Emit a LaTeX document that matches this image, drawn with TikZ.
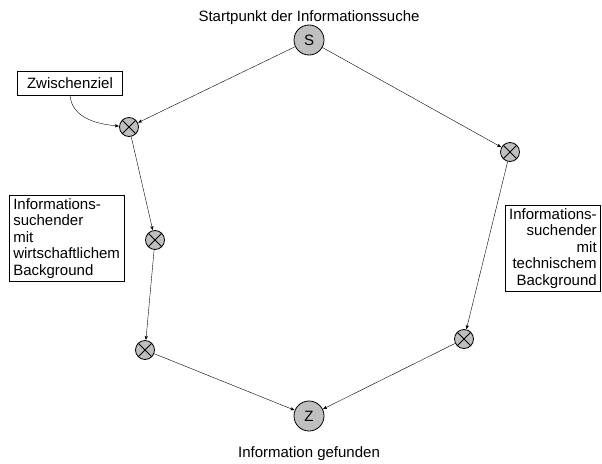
\documentclass[tikz,border=0pt]{standalone}
\usepackage{fontspec}
\setmainfont{Liberation Sans}
\usetikzlibrary{arrows}

\begin{document}
\begin{tikzpicture}[x=1pt,y=-1pt,->,>=stealth',shorten >=0.5pt,thin,
                    font=\fontsize{15}{16.5}\selectfont,
                    main node/.style={circle,draw,fill=black!25,line width=0.8pt,minimum size=30pt,inner sep=0pt},
                    way node/.style={circle,draw,fill=black!25,line width=0.8pt,minimum size=19pt,inner sep=0pt,
                      path picture={\draw[-,line width=0.8pt] (path picture bounding box.north west) -- (path picture bounding box.south east)
                                      (path picture bounding box.north east) -- (path picture bounding box.south west);}},
                    info box/.style={draw,line width=0.6pt,inner xsep=4pt,inner ysep=3pt}]
  \useasboundingbox (0,0) rectangle (602,463);

  \node[main node] (S) at (309,40) {S};
  \node[main node] (Z) at (309,416) {Z};

  \node[way node] (L1) at (129,127) {};
  \node[way node] (L2) at (155,240) {};
  \node[way node] (L3) at (145,350) {};
  \node[way node] (R1) at (510,152) {};
  \node[way node] (R2) at (464,339) {};

  \node[anchor=base] (start) at (309,21) {Startpunkt der Informationssuche};
  \node[anchor=base] (end) at (309,457) {Information gefunden};

  \node[info box,minimum width=105pt,minimum height=24pt] (zz) at (70,83) {Zwischenziel};
  \node[info box,anchor=north west,align=left] (wiwi) at (9,195)
    {Informations-\\suchender\\mit\\wirtschaftlichem\\Background};
  \node[info box,anchor=north east,align=right] (tech) at (601,205)
    {Informations-\\suchender\\mit\\technischem\\Background};

  \path
    (S)  edge (L1)
         edge (R1)
    (L1) edge (L2)
    (L2) edge (L3)
    (L3) edge (Z)
    (R1) edge (R2)
    (R2) edge (Z)
    (zz.south) edge [out=-85,in=175] (L1);
\end{tikzpicture}
\end{document}
